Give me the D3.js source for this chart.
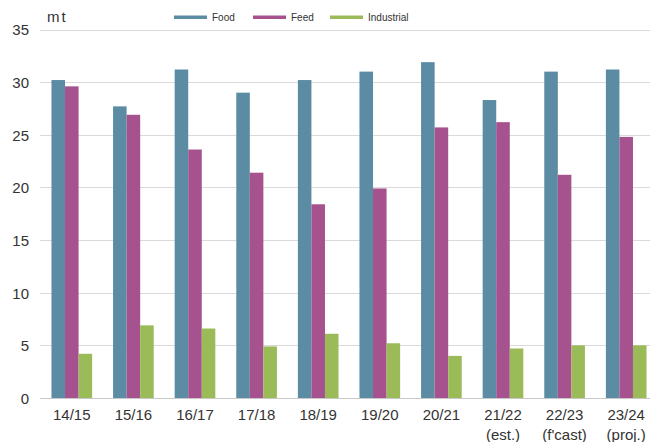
<!DOCTYPE html>
<html>
<head>
<meta charset="utf-8">
<script src="https://cdn.jsdelivr.net/npm/d3@7/dist/d3.min.js"></script>
<style>
  html, body { margin: 0; padding: 0; background: #ffffff; }
  svg { display: block; font-family: "Liberation Sans", Arial, sans-serif; }
</style>
</head>
<body>
<svg id="chart" width="650" height="442"></svg>
<script>
// Marketing years (second line of the label is the status note)
const seasons = ["14/15", "15/16", "16/17", "17/18", "18/19", "19/20", "20/21", "21/22", "22/23", "23/24"];
const seasonNotes = ["", "", "", "", "", "", "", "(est.)", "(f'cast)", "(proj.)"];

// Use by sector, million tonnes
const food       = [30.2, 27.7, 31.2, 29.0, 30.2, 31.0, 31.9, 28.3, 31.0, 31.2];
const feed       = [29.6, 26.9, 23.6, 21.4, 18.4, 19.9, 25.7, 26.2, 21.2, 24.8];
const industrial = [4.2, 6.9, 6.6, 4.9, 6.1, 5.2, 4.0, 4.7, 5.0, 5.0];

const seriesNames = ["Food", "Feed", "Industrial"];
const yTicks = [0, 5, 10, 15, 20, 25, 30, 35];

const colors = { Food: "#5b8ca4", Feed: "#a5528f", Industrial: "#9bbb59" };

const rows = seasons.map((s, i) => ({
  season: s, note: seasonNotes[i],
  Food: food[i], Feed: feed[i], Industrial: industrial[i]
}));

const svg = d3.select("#chart");

const x0 = d3.scaleBand().domain(seasons).range([41, 657])
  .paddingInner(0.34).paddingOuter(0.17);
const x1 = d3.scaleBand().domain(seriesNames).range([0, x0.bandwidth()]);
const y = d3.scaleLinear().domain([0, 35]).range([398, 29.5]);

// Horizontal gridlines
svg.append("g")
  .selectAll("line")
  .data(yTicks)
  .join("line")
  .attr("x1", 40).attr("x2", 650)
  .attr("y1", d => Math.round(y(d)) + 0.5)
  .attr("y2", d => Math.round(y(d)) + 0.5)
  .attr("stroke", d => d === 0 ? "#c8c8c8" : "#dadada")
  .attr("stroke-width", 1);

// Y axis labels
const yAxis = d3.axisLeft(y).tickValues(yTicks).tickSize(0).tickPadding(0);
const gy = svg.append("g").attr("transform", "translate(29,0)").call(yAxis);
gy.select(".domain").remove();
gy.selectAll("text")
  .attr("font-size", 15)
  .attr("fill", "#333333")
  .attr("font-family", "'Liberation Sans', Arial, sans-serif")
  .attr("dy", "0.36em");

// Bars
const groups = svg.append("g")
  .selectAll("g")
  .data(rows)
  .join("g")
  .attr("transform", d => `translate(${x0(d.season)},0)`);

groups.selectAll("rect")
  .data(d => seriesNames.map(k => ({ key: k, value: d[k] })))
  .join("rect")
  .attr("x", d => x1(d.key))
  .attr("width", x1.bandwidth())
  .attr("y", d => y(d.value))
  .attr("height", d => y(0) - y(d.value))
  .attr("fill", d => colors[d.key]);

// X axis labels (two lines)
const xl = svg.append("g")
  .selectAll("text")
  .data(rows)
  .join("text")
  .attr("x", d => x0(d.season) + x0.bandwidth() / 2)
  .attr("y", 420)
  .attr("text-anchor", "middle")
  .attr("font-size", 15)
  .attr("fill", "#333333");
xl.append("tspan").text(d => d.season);
xl.filter(d => d.note).append("tspan")
  .attr("x", d => x0(d.season) + x0.bandwidth() / 2)
  .attr("dy", 20)
  .text(d => d.note);

// Unit label
svg.append("text")
  .attr("x", 47).attr("y", 22)
  .attr("font-size", 15)
  .attr("letter-spacing", 2)
  .attr("fill", "#333333")
  .text("mt");

// Legend
const legendX = [174, 253, 330];
const legend = svg.append("g")
  .selectAll("g")
  .data(seriesNames)
  .join("g")
  .attr("transform", (d, i) => `translate(${legendX[i]},0)`);
legend.append("rect")
  .attr("x", 0).attr("y", 15.5)
  .attr("width", 33).attr("height", 3.5)
  .attr("fill", d => colors[d]);
legend.append("text")
  .attr("x", 38).attr("y", 20.5)
  .attr("font-size", 10)
  .attr("fill", "#333333")
  .text(d => d);
</script>
</body>
</html>
